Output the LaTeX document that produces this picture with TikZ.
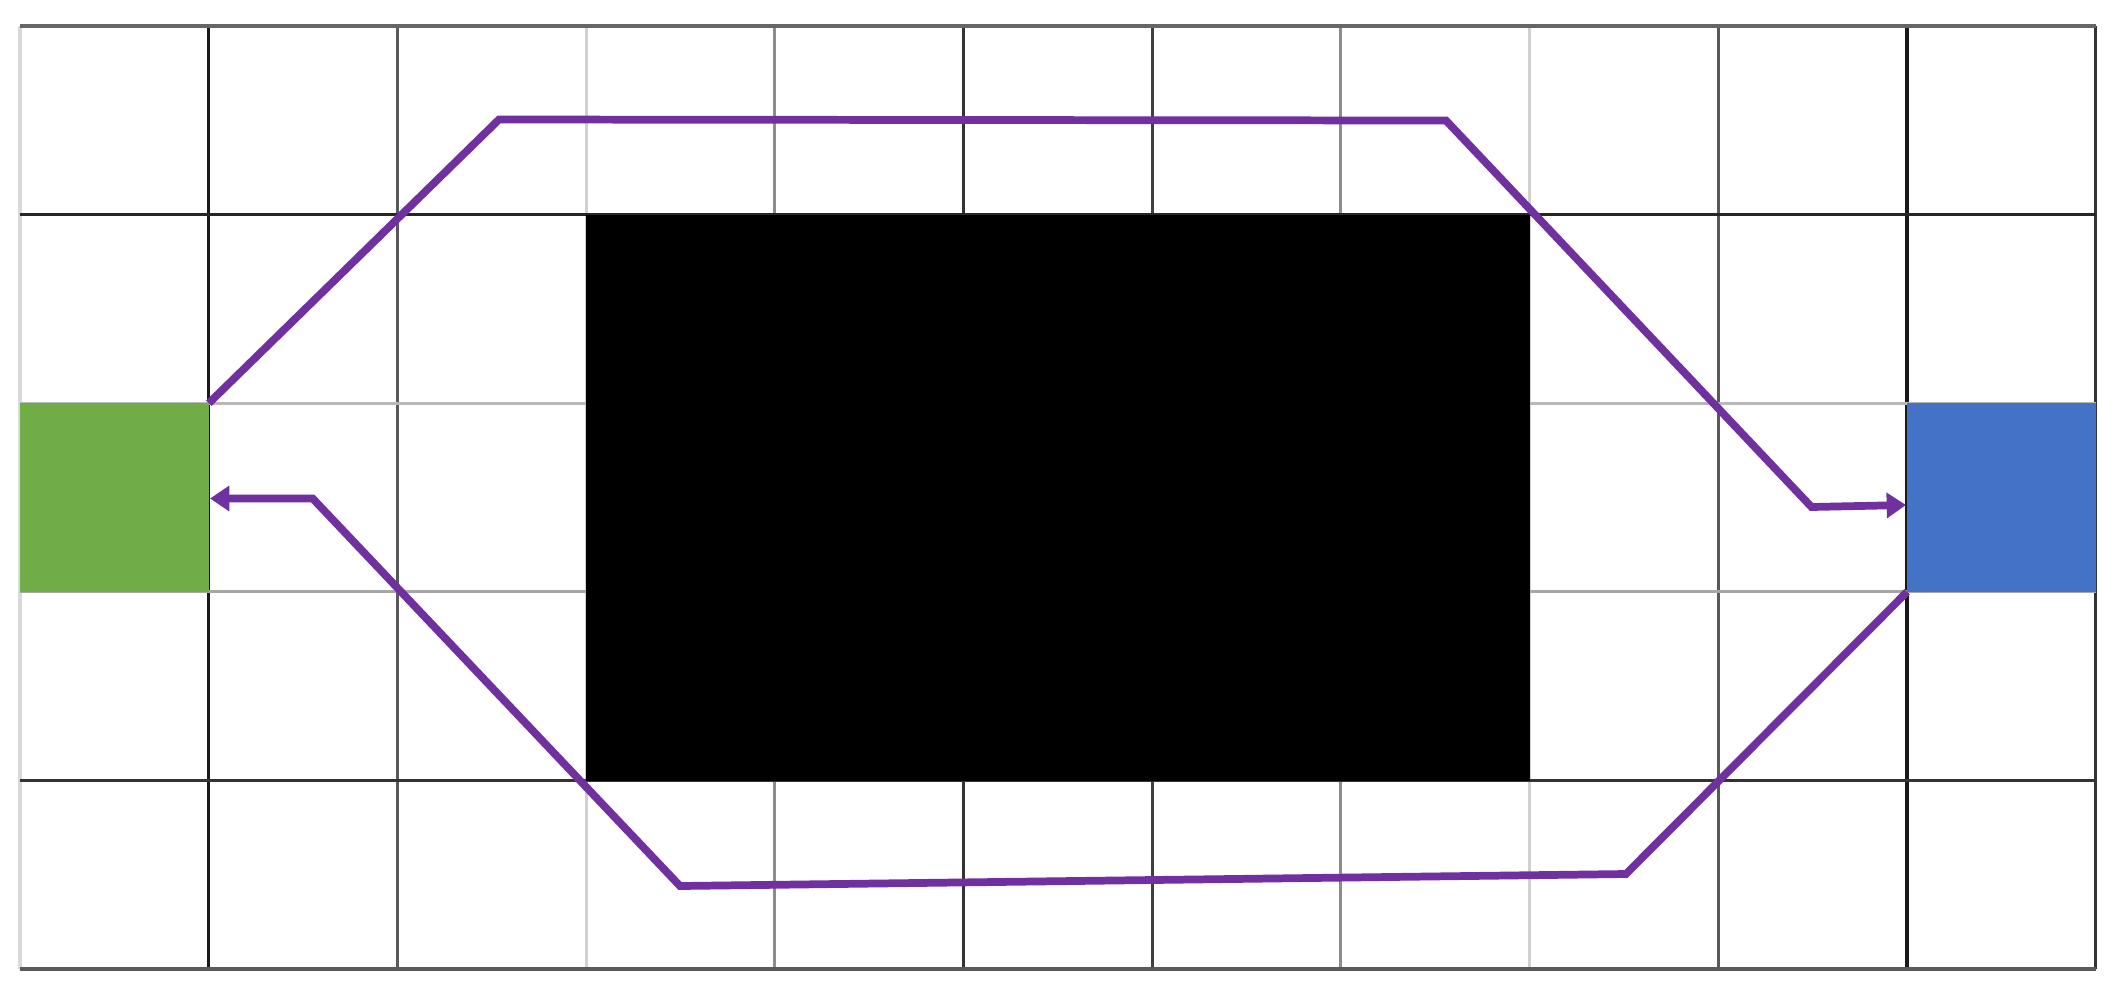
\documentclass[tikz,border=0pt]{standalone}
\usetikzlibrary{arrows.meta}
\definecolor{offgreen}{HTML}{70AD47}
\definecolor{offblue}{HTML}{4472C4}
\definecolor{offpurple}{HTML}{7030A0}
\begin{document}
\begin{tikzpicture}[x=0.01cm,y=-0.01cm,
  cellbox/.style={draw=none,inner sep=0pt,outer sep=0pt,anchor=north west,
    minimum width=1.887cm,minimum height=1.886cm},
  gl/.style={line width=0.9pt},
  route/.style={draw=offpurple,line width=2.2pt,line join=miter,
    -{Triangle[length=5.5pt,width=7pt]}}]
\useasboundingbox (0,0) rectangle (2123,996);
\fill[white] (0,0) rectangle (2123,996);
% vertical grid lines
\draw[gl,black!15] (20,26) -- (20,969);
\draw[gl,black!90] (208.7,26) -- (208.7,969);
\draw[gl,black!65] (397.4,26) -- (397.4,969);
\draw[gl,black!18] (586.1,26) -- (586.1,969);
\draw[gl,black!45] (774.8,26) -- (774.8,969);
\draw[gl,black!80] (963.5,26) -- (963.5,969);
\draw[gl,black!75] (1152.2,26) -- (1152.2,969);
\draw[gl,black!45] (1340.9,26) -- (1340.9,969);
\draw[gl,black!18] (1529.6,26) -- (1529.6,969);
\draw[gl,black!65] (1718.3,26) -- (1718.3,969);
\draw[gl,black!90] (1907,26) -- (1907,969);
\draw[gl,black!80] (2095.7,26) -- (2095.7,969);
% horizontal grid lines
\draw[gl,black!60] (20,26) -- (2095.7,26);
\draw[gl,black!85] (20,214.6) -- (2095.7,214.6);
\draw[gl,black!28] (20,403.2) -- (2095.7,403.2);
\draw[gl,black!35] (20,591.8) -- (2095.7,591.8);
\draw[gl,black!80] (20,780.4) -- (2095.7,780.4);
\draw[gl,black!65] (20,969) -- (2095.7,969);
% blocks
\node[cellbox,fill=black,minimum width=9.435cm,minimum height=5.658cm] (wall) at (586.1,214.6) {};
\node[cellbox,fill=offgreen] (green) at (20,403.2) {};
\node[cellbox,fill=offblue] (blue) at (1907,403.2) {};
% route coordinates
\coordinate (u1) at (499,119.5);
\coordinate (u2) at (1446,120.5);
\coordinate (u3) at (1811.5,507);
\coordinate (uend) at (1906,505);
\coordinate (l1) at (1626,874);
\coordinate (l2) at (680,886);
\coordinate (l3) at (312.7,498.5);
\coordinate (lend) at (210,498.5);
% routes
\draw[route] (green.north east) -- (u1) -- (u2) -- (u3) -- (uend);
\draw[route] (blue.south west) -- (l1) -- (l2) -- (l3) -- (lend);
\end{tikzpicture}
\end{document}
